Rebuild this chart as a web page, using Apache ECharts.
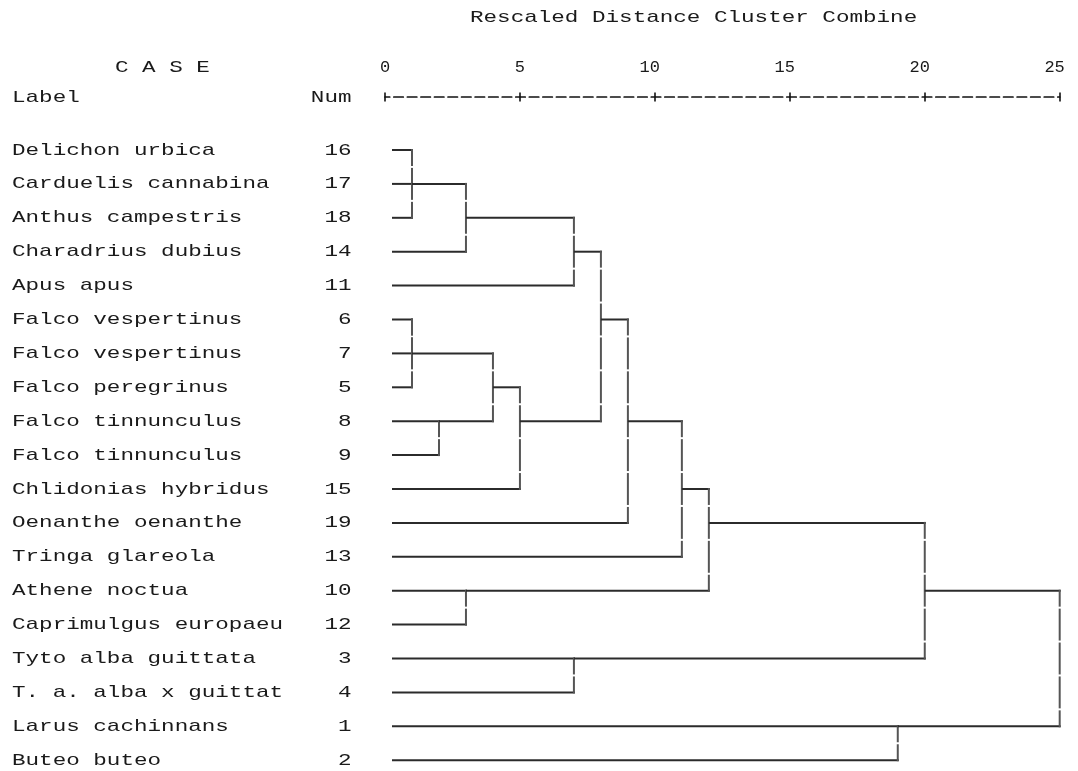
<!DOCTYPE html>
<html>
<head>
<meta charset="utf-8">
<script src="https://cdn.jsdelivr.net/npm/echarts@6/dist/echarts.min.js"></script>
<style>
html,body{margin:0;padding:0;background:#fff;}
#chart{width:1078px;height:771px;}
</style>
</head>
<body>
<div id="chart"></div>
<script>
// ---------------- data ----------------
const caseLabels = [
  "Delichon urbica", "Carduelis cannabina", "Anthus campestris", "Charadrius dubius",
  "Apus apus", "Falco vespertinus", "Falco vespertinus", "Falco peregrinus",
  "Falco tinnunculus", "Falco tinnunculus", "Chlidonias hybridus", "Oenanthe oenanthe",
  "Tringa glareola", "Athene noctua", "Caprimulgus europaeu", "Tyto alba guittata",
  "T. a. alba x guittat", "Larus cachinnans", "Buteo buteo"
];
const caseNums = [16, 17, 18, 14, 11, 6, 7, 5, 8, 9, 15, 19, 13, 10, 12, 3, 4, 1, 2];

// agglomeration schedule (stage i joins joinLeft[i] with joinRight[i]); 's<n>' = cluster formed at stage n
const joinLeft     = [16, 's1', 's2', 's3', 6, 's5', 8, 's6', 's8', 's4', 's10', 's11', 10, 's12', 3, 's14', 1, 's16'];
const joinRight    = [17, 18,   14,   11,   7, 5,    9, 's7', 15,   's9', 19,    13,    12, 's13', 4, 's15', 2, 's17'];
const joinDistance = [1,  1,    3,    7,    1, 1,    2, 4,    5,    8,    9,     11,    3,  12,    7, 20,    19, 25];

const axisTicks = [0, 5, 10, 15, 20, 25];
const titleText = "Rescaled Distance Cluster Combine";

// ---------------- layout helpers ----------------
const FONT = '"Liberation Mono", "DejaVu Sans Mono", monospace';
const FS = 17;
const SX = 13.55 / (FS * 0.6);   // horizontal stretch of the monospace text
const TXT = '#1a1a1a';
const HCOL = '#2b2b2b';
const VCOL = '#555';

// build cluster geometry (rows, x) from the schedule
const clusters = {};
caseNums.forEach((n, r) => { clusters[n] = { row: r, d: null }; });
const joins = joinDistance.map((d, i) => {
  const a = clusters[joinLeft[i]], b = clusters[joinRight[i]];
  const r1 = Math.min(a.row, b.row), r2 = Math.max(a.row, b.row);
  const out = { row: Math.floor((r1 + r2) / 2), d: d };
  clusters['s' + (i + 1)] = out;
  return { a: a, b: b, d: d, r1: r1, r2: r2 };
});

const chart = echarts.init(document.getElementById('chart'), null, { renderer: 'canvas' });

const option = {
  backgroundColor: '#fff',
  animation: false,
  grid: { left: 385, right: 15.5, top: 150, bottom: 10.8, containLabel: false },
  xAxis: [
    {
      type: 'value', min: axisTicks[0], max: axisTicks[axisTicks.length - 1], interval: 5, position: 'top', offset: 53,
      axisLine: { show: true, onZero: false, lineStyle: { color: '#111', width: 1.7, type: [9.5, 4.05], dashOffset: 4.75 } },
      axisTick: { show: true, inside: false, length: 4.5, lineStyle: { color: '#111', width: 1.6 } },
      axisLabel: {
        show: true, margin: 21, align: 'center',
        fontFamily: FONT, fontSize: FS, color: TXT,
        formatter: v => (v >= 10 ? v + '\u00a0' : '' + v)
      },
      splitLine: { show: false }
    },
    {
      type: 'value', min: axisTicks[0], max: axisTicks[axisTicks.length - 1], interval: 5, position: 'top', offset: 53,
      axisLine: { show: false, onZero: false },
      axisTick: { show: true, inside: true, length: 4.5, lineStyle: { color: '#111', width: 1.6 } },
      axisLabel: { show: false },
      splitLine: { show: false }
    }
  ],
  yAxis: { type: 'value', min: 0, max: 18, inverse: true, show: false },
  graphic: [
    { type: 'text', x: 470, y: 17, scaleX: SX, style: { text: titleText, font: FS + 'px ' + FONT, fill: TXT, verticalAlign: 'middle', align: 'left' } },
    { type: 'text', x: 115, y: 67, scaleX: SX, style: { text: 'C A S E', font: FS + 'px ' + FONT, fill: TXT, verticalAlign: 'middle', align: 'left' } },
    { type: 'text', x: 12, y: 97, scaleX: SX, style: { text: 'Label', font: FS + 'px ' + FONT, fill: TXT, verticalAlign: 'middle', align: 'left' } },
    { type: 'text', x: 351.5, y: 97, scaleX: SX, style: { text: 'Num', font: FS + 'px ' + FONT, fill: TXT, verticalAlign: 'middle', align: 'right' } }
  ],
  series: [
    {
      // case labels and numbers, one per row
      type: 'custom',
      xAxisIndex: 0, yAxisIndex: 0,
      clip: false, silent: true,
      data: caseNums.map((n, r) => [0, r]),
      renderItem: function (params, api) {
        const r = api.value(1);
        const y = api.coord([0, r])[1];
        return {
          type: 'group',
          children: [
            { type: 'text', x: 12, y: y, scaleX: SX,
              style: { text: caseLabels[params.dataIndex], font: FS + 'px ' + FONT, fill: TXT, align: 'left', verticalAlign: 'middle' } },
            { type: 'text', x: 351.5, y: y, scaleX: SX,
              style: { text: String(caseNums[params.dataIndex]), font: FS + 'px ' + FONT, fill: TXT, align: 'right', verticalAlign: 'middle' } }
          ]
        };
      }
    },
    {
      // dendrogram links
      type: 'custom',
      xAxisIndex: 0, yAxisIndex: 0,
      clip: false, silent: true,
      data: joinDistance.map((d, i) => [d, i]),
      renderItem: function (params, api) {
        const j = joins[params.dataIndex];
        const x0 = api.coord([0, 0])[0];
        const xd = api.coord([j.d, 0])[0];
        const yOf = r => api.coord([0, r])[1];
        const xOf = c => (c.d === null ? x0 + 7 : api.coord([c.d, 0])[0]);
        const kids = [];
        [j.a, j.b].forEach(c => {
          const xs = xOf(c);
          if (xd - xs > 0.5) {
            kids.push({ type: 'line', shape: { x1: xs, y1: yOf(c.row), x2: xd + 1, y2: yOf(c.row) },
              style: { stroke: HCOL, lineWidth: 2 } });
          }
        });
        // vertical connector, broken between text rows
        const g = 1;
        for (let k = j.r1; k < j.r2; k++) {
          const mid = yOf(k + 0.5);
          const start = k === j.r1 ? yOf(k) - 1 : yOf(k - 0.5) + g;
          kids.push({ type: 'line', shape: { x1: xd, y1: start, x2: xd, y2: mid - g },
            style: { stroke: VCOL, lineWidth: 2 } });
          if (k + 1 === j.r2) {
            kids.push({ type: 'line', shape: { x1: xd, y1: mid + g, x2: xd, y2: yOf(k + 1) + 1 },
              style: { stroke: VCOL, lineWidth: 2 } });
          }
        }
        return { type: 'group', children: kids };
      }
    }
  ]
};

chart.setOption(option);
</script>
</body>
</html>
